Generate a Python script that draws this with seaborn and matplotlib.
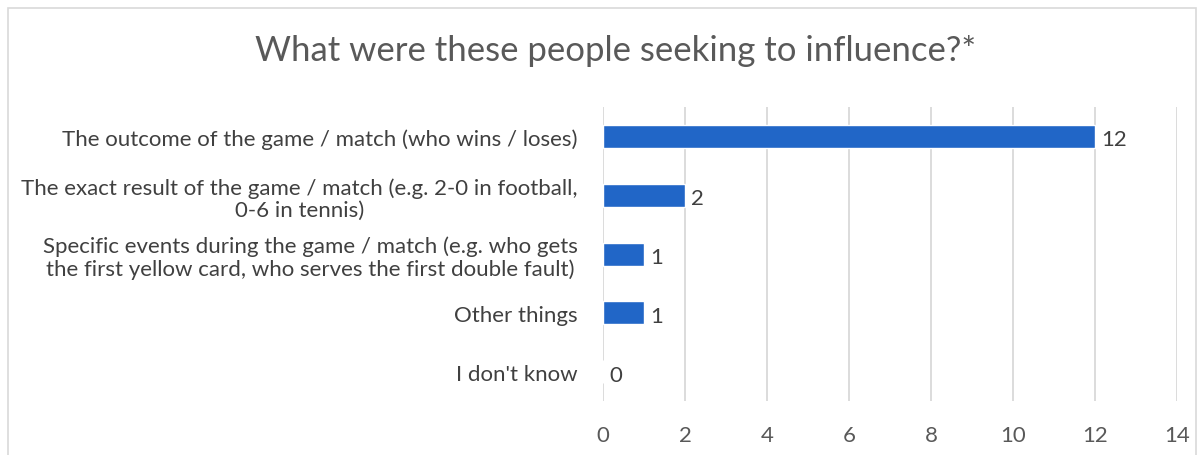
import matplotlib
matplotlib.use("Agg")
import matplotlib.pyplot as plt
import seaborn as sns
import pandas as pd
from matplotlib.patches import Rectangle

categories = [
    "The outcome of the game / match (who wins / loses)",
    "The exact result of the game / match (e.g. 2-0 in football,\n0-6 in tennis)",
    "Specific events during the game / match (e.g. who gets\nthe first yellow card, who serves the first double fault)",
    "Other things",
    "I don't know",
]
counts = [12, 2, 1, 1, 0]
title = "What were these people seeking to influence?*"

sns.set_theme(style="white")
plt.rcParams['font.family'] = ['Lato', 'DejaVu Sans']

df = pd.DataFrame({"category": categories, "count": counts})

fig = plt.figure(figsize=(12.04, 4.56), dpi=100)
ax = fig.add_axes([0.5008, 0.1184, 0.4768, 0.6446])

sns.barplot(data=df, x="count", y="category", color="#2166C7", width=0.39,
            saturation=1, ax=ax)

ax.set_xlim(0, 14)
ax.set_xticks(range(0, 15, 2))
ax.xaxis.grid(True, color="#D9D9D9", linewidth=1.3)
ax.set_axisbelow(True)
for s in ax.spines.values():
    s.set_visible(False)
ax.set_xlabel("")
ax.set_ylabel("")
ax.tick_params(axis="x", length=0, pad=17, labelsize=16, labelcolor="#595959")
ax.tick_params(axis="y", length=0, pad=18, labelsize=16, labelcolor="#404040")
for lbl in ax.get_yticklabels():
    lbl.set_multialignment("center")
    lbl.set_linespacing(1.15)

for i, v in enumerate(counts):
    ax.text(v + 0.15, i + 0.05, str(v), va="center", ha="left",
            fontsize=16, color="#404040")

fig.text(0.511, 0.888, title, ha="center", va="center", fontsize=25, color="#595959")

fig.patches.append(Rectangle((8 / 1204, -0.1), 1188 / 1204, 1.1 - 9 / 456,
                             transform=fig.transFigure, fill=False,
                             edgecolor="#D9D9D9", linewidth=1.2))

fig.savefig("out.png", dpi=100)
